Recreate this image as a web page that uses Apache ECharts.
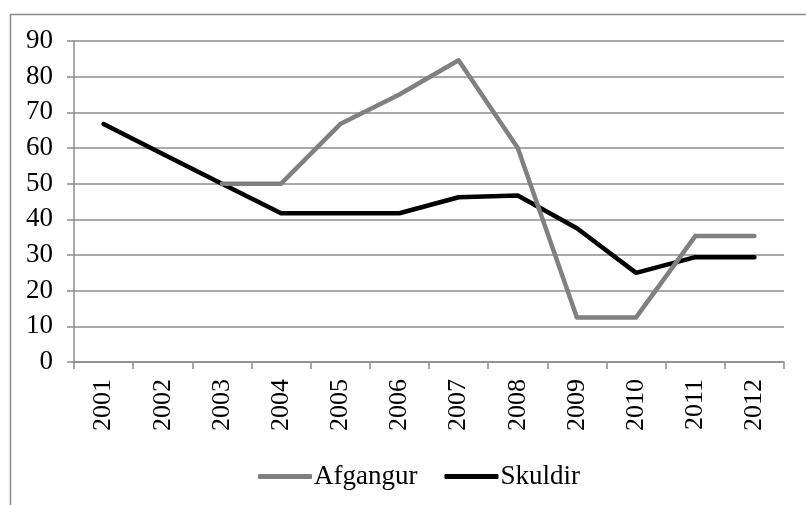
<!DOCTYPE html>
<html>
<head>
<meta charset="utf-8">
<script src="https://cdn.jsdelivr.net/npm/echarts@6/dist/echarts.min.js"></script>
<style>html,body{margin:0;padding:0;background:#fff}#c{width:806px;height:505px}</style>
</head>
<body>
<div id="c"></div>
<script>
var categories = ['2001','2002','2003','2004','2005','2006','2007','2008','2009','2010','2011','2012'];
var skuldir = [66.7, 58.3, 50, 41.7, 41.7, 41.7, 46.2, 46.7, 37.5, 25, 29.4, 29.4];
var afgangur = [null, null, 50, 50, 66.7, 75, 84.6, 60, 12.5, 12.5, 35.3, 35.3];
var yTicks = [0, 10, 20, 30, 40, 50, 60, 70, 80, 90];

var chart = echarts.init(document.getElementById('c'), null, {renderer: 'canvas'});
var font = 'Liberation Serif';
chart.setOption({
  animation: false,
  backgroundColor: '#fff',
  graphic: [{
    type: 'rect', left: 8, top: 12,
    shape: {width: 830, height: 530},
    style: {fill: 'none', stroke: '#8c8c8c', lineWidth: 1.5}
  }],
  grid: {left: 74, right: 22, top: 41, bottom: 143, containLabel: false},
  legend: {
    top: 458, left: 253,
    data: ['Afgangur', 'Skuldir'],
    itemWidth: 54, itemHeight: 5, itemGap: 27,
    icon: 'roundRect',
    textStyle: {fontFamily: font, fontSize: 27, color: '#000', padding: [0,0,0,-3]}
  },
  xAxis: {
    type: 'category', data: categories, boundaryGap: true,
    axisLine: {lineStyle: {color: '#8c8c8c', width: 1.5}},
    axisTick: {show: true, length: 7, lineStyle: {color: '#8c8c8c', width: 1.5}},
    axisLabel: {rotate: 90, fontFamily: font, fontSize: 26, color: '#000', margin: 17}
  },
  yAxis: {
    type: 'value', min: 0, max: 90, interval: 10,
    axisLine: {show: true, lineStyle: {color: '#8c8c8c', width: 1.5}},
    axisTick: {show: true, length: 7, lineStyle: {color: '#8c8c8c', width: 1.5}},
    splitLine: {lineStyle: {color: '#8c8c8c', width: 1.5}},
    axisLabel: {fontFamily: font, fontSize: 27, color: '#000', margin: 21,
      formatter: function(v){ return yTicks.indexOf(v) >= 0 ? String(v) : ''; }}
  },
  series: [
    {name: 'Skuldir', type: 'line', data: skuldir, symbol: 'none', z: 2,
     lineStyle: {color: '#000', width: 4.5, cap: 'round', join: 'round'}, itemStyle: {color: '#000'}},
    {name: 'Afgangur', type: 'line', data: afgangur, symbol: 'none', z: 3,
     lineStyle: {color: '#808080', width: 4.5, cap: 'round', join: 'round'}, itemStyle: {color: '#808080'}}
  ]
});
</script>
</body>
</html>
